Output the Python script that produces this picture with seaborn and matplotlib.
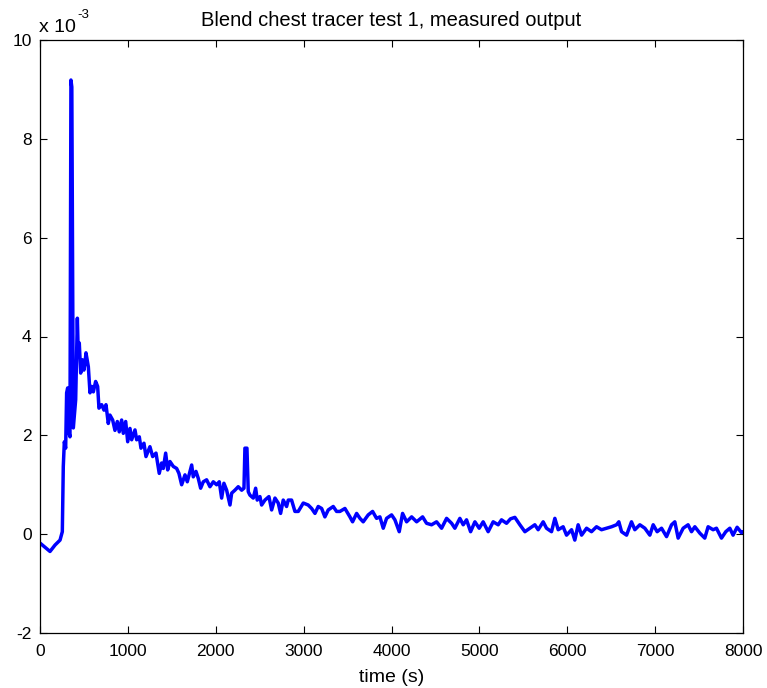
import numpy as np
import pandas as pd
import matplotlib
matplotlib.use("Agg")
import matplotlib.pyplot as plt
import seaborn as sns

# time (s)
time_s = [0, 114, 171, 228, 254, 265, 277, 292, 303, 315, 330, 341, 352, 362, 379,
          406, 425, 436, 447, 463, 482, 500, 512, 523, 550, 569, 588, 607, 633, 656,
          671, 702, 728, 751, 777, 796, 827, 853, 880, 902, 929, 948, 975, 998, 1024,
          1043, 1081, 1100, 1130, 1149, 1183, 1206, 1251, 1282, 1320, 1357, 1384, 1403,
          1430, 1453, 1479, 1517, 1555, 1581, 1612, 1650, 1676, 1707, 1726, 1744, 1775,
          1801, 1828, 1858, 1896, 1934, 1972, 2010, 2040, 2067, 2093, 2124, 2162, 2181,
          2218, 2256, 2295, 2321, 2332, 2355, 2370, 2389, 2427, 2454, 2472, 2503, 2522,
          2560, 2605, 2636, 2674, 2711, 2738, 2768, 2806, 2825, 2863, 2901, 2939, 2996,
          3052, 3091, 3129, 3166, 3205, 3242, 3280, 3337, 3375, 3413, 3470, 3527, 3557,
          3603, 3641, 3678, 3735, 3785, 3830, 3868, 3906, 3944, 4001, 4039, 4088, 4126,
          4172, 4229, 4286, 4354, 4399, 4456, 4513, 4570, 4627, 4684, 4721, 4778, 4816,
          4854, 4900, 4949, 4998, 5043, 5100, 5157, 5214, 5252, 5309, 5354, 5404, 5461,
          5518, 5575, 5631, 5669, 5726, 5764, 5821, 5859, 5897, 5953, 5992, 6049, 6086,
          6124, 6163, 6220, 6276, 6333, 6390, 6447, 6504, 6561, 6587, 6618, 6675, 6731,
          6769, 6826, 6883, 6940, 6978, 7023, 7073, 7130, 7187, 7224, 7262, 7319, 7375,
          7414, 7452, 7509, 7565, 7603, 7660, 7698, 7755, 7804, 7850, 7887, 7933, 7983,
          8000]

# measured output (x 1e-3)
output_e3 = [-0.18, -0.35, -0.22, -0.12, 0.05, 1.37, 1.87, 1.74, 2.86, 2.96, 2.05, 1.97, 9.19, 9.05, 2.15,
             2.72, 4.37, 3.60, 3.87, 3.26, 3.53, 3.32, 3.46, 3.67, 3.39, 2.86, 2.99, 2.88, 3.09, 2.99,
             2.55, 2.62, 2.51, 2.62, 2.24, 2.41, 2.31, 2.10, 2.28, 2.07, 2.31, 2.04, 2.28, 1.87, 2.14,
             1.91, 2.11, 1.91, 1.97, 1.74, 1.84, 1.57, 1.77, 1.57, 1.64, 1.23, 1.44, 1.33,
             1.64, 1.30, 1.47, 1.37, 1.33, 1.23, 1.00, 1.20, 1.06, 1.27, 1.40, 1.16, 1.27,
             1.13, 0.93, 1.06, 1.10, 0.96, 1.06, 1.00, 1.06, 0.73, 1.03, 0.89, 0.59, 0.83,
             0.89, 0.96, 0.89, 0.93, 1.74, 1.74, 0.86, 0.79, 0.73, 0.93, 0.69, 0.76, 0.59,
             0.69, 0.76, 0.49, 0.73, 0.63, 0.42, 0.69, 0.56, 0.69, 0.69, 0.46, 0.46, 0.63,
             0.59, 0.52, 0.42, 0.56, 0.52, 0.35, 0.49, 0.56, 0.46, 0.46, 0.52, 0.35, 0.25,
             0.42, 0.32, 0.25, 0.39, 0.46, 0.32, 0.35, 0.12, 0.32, 0.39, 0.29, 0.05, 0.42,
             0.25, 0.35, 0.25, 0.35, 0.22, 0.19, 0.25, 0.12, 0.32, 0.22, 0.12, 0.32, 0.19,
             0.29, 0.05, 0.25, 0.12, 0.25, 0.05, 0.25, 0.19, 0.29, 0.22, 0.31, 0.34, 0.19,
             0.05, 0.12, 0.19, 0.09, 0.25, 0.12, 0.05, 0.32, 0.09, 0.15, -0.02, 0.09, -0.12,
             0.19, -0.02, 0.12, 0.05, 0.15, 0.09, 0.12, 0.15, 0.19, 0.25, 0.05, -0.02, 0.25,
             0.09, 0.19, 0.12, -0.02, 0.19, 0.05, 0.12, -0.05, 0.19, 0.25, -0.08, 0.12, 0.19,
             0.05, 0.15, 0.02, -0.08, 0.15, 0.09, 0.12, -0.08, 0.05, 0.12, -0.02, 0.14, 0.03,
             0.05]

x_ticks = [0, 1000, 2000, 3000, 4000, 5000, 6000, 7000, 8000]
y_ticks = [-2, 0, 2, 4, 6, 8, 10]

sns.set_style("ticks")
plt.rcParams['font.family'] = ['Liberation Sans', 'DejaVu Sans']
plt.rcParams['text.color'] = 'black'
plt.rcParams['axes.labelcolor'] = 'black'

df = pd.DataFrame({"time": time_s, "output": output_e3})

fig = plt.figure(figsize=(7.67, 6.88), dpi=100)
ax = fig.add_axes([40 / 767, 1 - 633 / 688, 703 / 767, 593 / 688])
sns.lineplot(data=df, x="time", y="output", ax=ax, color="#0000ff",
             linewidth=2.5, sort=False, estimator=None)

ax.set_xlim(0, 8000)
ax.set_ylim(-2, 10)
ax.set_xticks(x_ticks)
ax.set_yticks(y_ticks)
ax.set_xticklabels([str(v) for v in x_ticks])
ax.set_yticklabels([str(v) for v in y_ticks])
ax.tick_params(direction="in", length=5, width=0.8, top=True, right=True,
               labelsize=12.5, colors="black")
ax.tick_params(axis="x", pad=8)
ax.tick_params(axis="y", pad=6)
for s in ax.spines.values():
    s.set_visible(True)
    s.set_color("black")
    s.set_linewidth(0.9)

ax.set_xlabel("time (s)", fontsize=14, labelpad=7, color="black")
ax.set_ylabel("")
ax.set_title("Blend chest tracer test 1, measured output", fontsize=14.5, pad=10,
             color="black")
ax.text(-0.002, 1.0135, "x 10", transform=ax.transAxes, fontsize=14,
        ha="left", va="baseline", color="black")
ax.text(0.0535, 1.037, "-3", transform=ax.transAxes, fontsize=9.5,
        ha="left", va="baseline", color="black")

fig.savefig("out.png", dpi=100)
